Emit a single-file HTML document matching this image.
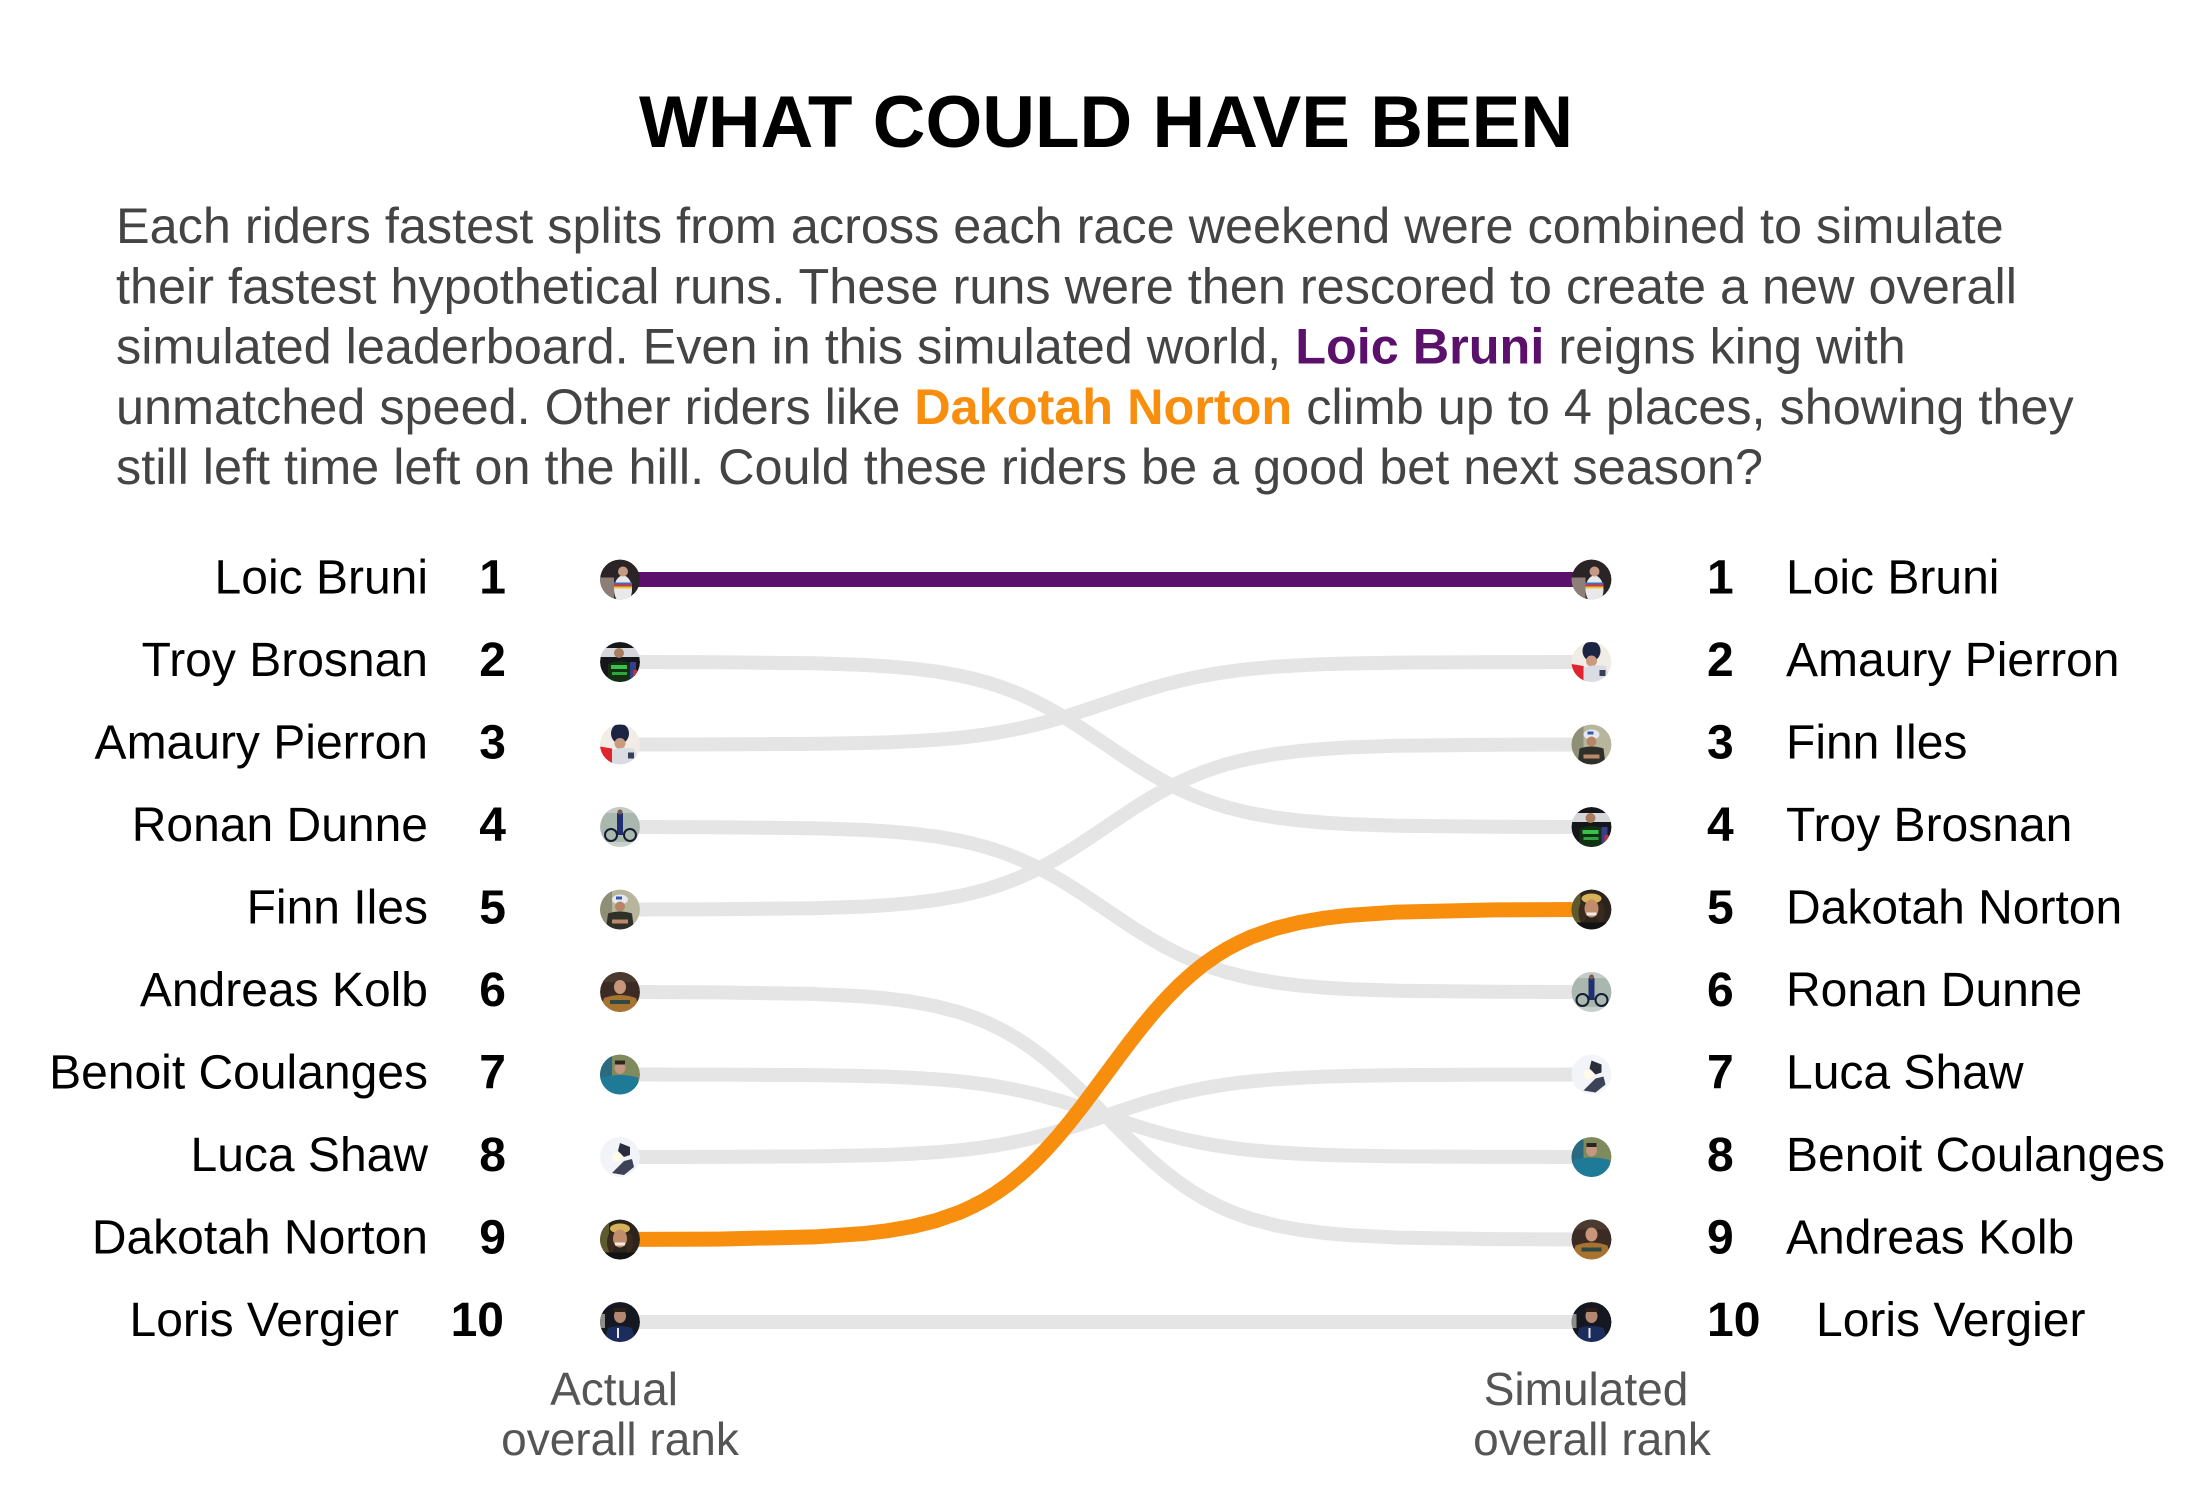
<!DOCTYPE html>
<html>
<head>
<meta charset="utf-8">
<style>
html,body{margin:0;padding:0;background:#fff;}
svg{display:block;}
text{font-family:"Liberation Sans","Helvetica","Arial",sans-serif;}
.nm{font-size:48px;fill:#000;}
.rk{font-size:48px;font-weight:bold;fill:#000;}
.sub{font-size:50.4px;fill:#444;}
.ax{font-size:46px;fill:#555;}
.g{fill:none;stroke:#e5e5e5;stroke-width:14;stroke-linejoin:round;}
</style>
</head>
<body>
<svg width="2200" height="1500" viewBox="0 0 2200 1500" xmlns="http://www.w3.org/2000/svg">
<defs>
<clipPath id="cp"><circle cx="0" cy="0" r="20"/></clipPath>
<g id="a1" clip-path="url(#cp)">
<circle r="20" fill="#2b2426"/>
<rect x="-20" y="-2" width="14" height="22" fill="#8d7e78"/>
<ellipse cx="3" cy="10" rx="9" ry="14" fill="#e9e9ec"/>
<rect x="-6" y="3" width="18" height="2" fill="#3a6fc0"/>
<rect x="-6" y="5" width="18" height="2" fill="#d33"/>
<rect x="-6" y="7" width="18" height="2" fill="#e8c840"/>
<circle cx="3" cy="-8" r="5" fill="#c59a85"/>
</g>
<g id="a2" clip-path="url(#cp)">
<circle r="20" fill="#15161a"/>
<rect x="-20" y="-14" width="40" height="9" fill="#d6d7db"/>
<circle cx="-1" cy="-9" r="5" fill="#a87c60"/>
<path d="M-12,20 L-12,2 Q0,-4 12,2 L12,20Z" fill="#143014"/>
<rect x="-9" y="3" width="16" height="4" fill="#39c24a"/>
<rect x="-8" y="10" width="15" height="3" fill="#2ea53f"/>
<rect x="10" y="0" width="6" height="16" fill="#3a3d8c"/>
<rect x="13" y="8" width="4" height="6" fill="#c0303a"/>
</g>
<g id="a3" clip-path="url(#cp)">
<circle r="20" fill="#f1ede6"/>
<ellipse cx="0" cy="-11" rx="9" ry="10" fill="#1c2443"/>
<circle cx="0" cy="-1" r="5.5" fill="#c99a7e"/>
<path d="M-20,2 L-8,4 L-6,20 L-20,20Z" fill="#e0252f"/>
<path d="M-8,6 Q0,2 14,4 L20,20 L-8,20Z" fill="#dadce3"/>
<rect x="8" y="8" width="6" height="6" fill="#3a3f58"/>
</g>
<g id="a4" clip-path="url(#cp)">
<circle r="20" fill="#aab7ae"/>
<rect x="-20" y="-20" width="40" height="6" fill="#c5ccc7"/>
<rect x="-3" y="-14" width="6" height="22" fill="#1e2f72"/>
<circle cx="0" cy="-15" r="2.5" fill="#7a5a48"/>
<circle cx="-9" cy="8" r="6" fill="none" stroke="#141c30" stroke-width="2"/>
<circle cx="10" cy="8" r="6" fill="none" stroke="#141c30" stroke-width="2"/>
<rect x="-20" y="15" width="40" height="5" fill="#c8d0cb"/>
</g>
<g id="a5" clip-path="url(#cp)">
<circle r="20" fill="#b7b59c"/>
<rect x="-20" y="-20" width="12" height="40" fill="#8f8f78"/>
<ellipse cx="0" cy="-10" rx="8" ry="5" fill="#e6eaf0"/>
<rect x="-4" y="-13" width="6" height="3" fill="#2c5bb0"/>
<circle cx="0" cy="-3" r="5" fill="#b78465"/>
<path d="M-14,20 L-12,4 Q0,0 12,4 L14,20Z" fill="#2f3129"/>
<rect x="-8" y="10" width="16" height="4" fill="#b88a6a"/>
</g>
<g id="a6" clip-path="url(#cp)">
<circle r="20" fill="#3b2b24"/>
<rect x="-20" y="-20" width="40" height="10" fill="#4a3a30"/>
<ellipse cx="0" cy="-5" rx="6" ry="7" fill="#c8967a"/>
<path d="M-20,20 L-16,6 Q0,0 16,6 L20,20Z" fill="#a8722f"/>
<rect x="-10" y="8" width="20" height="4" fill="#2f4a46"/>
</g>
<g id="a7" clip-path="url(#cp)">
<circle r="20" fill="#7f8b5d"/>
<rect x="-20" y="-20" width="12" height="40" fill="#2a6a7f"/>
<ellipse cx="0" cy="-7" rx="5.5" ry="6.5" fill="#c49880"/>
<rect x="-5" y="-14" width="10" height="4" fill="#2a2620"/>
<path d="M-20,20 L-18,3 Q0,-2 18,3 L20,20Z" fill="#1f7a98"/>
</g>
<g id="a8" clip-path="url(#cp)">
<circle r="20" fill="#f2f4f9"/>
<path d="M0,-14 L10,-10 L10,-2 L4,0 L-2,-6Z" fill="#2a2e3c"/>
<path d="M-8,16 L4,4 L12,2 L14,10 L4,18Z" fill="#3d4257"/>
<circle cx="-3" cy="0" r="5" fill="#fffbe8"/>
</g>
<g id="a9" clip-path="url(#cp)">
<circle r="20" fill="#2a241d"/>
<rect x="-20" y="-20" width="9" height="40" fill="#5d5a2e"/>
<ellipse cx="0" cy="-11" rx="10" ry="5" fill="#d8b25a"/>
<ellipse cx="-9" cy="3" rx="4" ry="10" fill="#3a2a1e"/>
<ellipse cx="9" cy="3" rx="4" ry="10" fill="#3a2a1e"/>
<ellipse cx="0" cy="-1" rx="7" ry="9" fill="#c08c6c"/>
<rect x="-5" y="3" width="10" height="3" fill="#f0ece6"/>
<rect x="-20" y="13" width="40" height="7" fill="#121212"/>
</g>
<g id="a10" clip-path="url(#cp)">
<circle r="20" fill="#151820"/>
<rect x="-20" y="-8" width="5" height="14" fill="#8c8c88"/>
<ellipse cx="0" cy="-6" rx="6" ry="7" fill="#b48870"/>
<rect x="-6" y="-14" width="12" height="4" fill="#2a2018"/>
<path d="M-16,20 L-12,6 Q0,2 12,6 L16,20Z" fill="#1c2c5c"/>
<rect x="-3" y="6" width="2" height="10" fill="#e8e8ee"/>
</g>
</defs>

<rect width="2200" height="1500" fill="#fff"/>

<!-- Title -->
<text x="1106" y="147" text-anchor="middle" font-size="73" font-weight="bold" fill="#000">WHAT COULD HAVE BEEN</text>

<!-- Subtitle -->
<text class="sub" x="116" y="243">Each riders fastest splits from across each race weekend were combined to simulate</text>
<text class="sub" x="116" y="303.5">their fastest hypothetical runs. These runs were then rescored to create a new overall</text>
<text class="sub" x="116" y="363.5">simulated leaderboard. Even in this simulated world, <tspan font-weight="bold" fill="#5b116b">Loic Bruni</tspan> reigns king with</text>
<text class="sub" x="116" y="424">unmatched speed. Other riders like <tspan font-weight="bold" fill="#f78e0e">Dakotah Norton</tspan> climb up to 4 places, showing they</text>
<text class="sub" x="116" y="484">still left time left on the hill. Could these riders be a good bet next season?</text>

<!-- Gray bump lines -->
<g>
<path class="g" vector-effect="non-scaling-stroke" transform="translate(620,662) scale(971.5,165)" d="M0,0 L0.1,0.0013 L0.2,0.0078 L0.25,0.0177 L0.275,0.0263 L0.3,0.0389 L0.325,0.057 L0.35,0.0829 L0.3625,0.0998 L0.375,0.1189 L0.3875,0.1419 L0.4,0.1677 L0.4125,0.1978 L0.425,0.2313 L0.4375,0.2689 L0.45,0.3099 L0.4625,0.3543 L0.475,0.4013 L0.4875,0.4502 L0.5,0.5 L0.5125,0.5498 L0.525,0.5987 L0.5375,0.6457 L0.55,0.6901 L0.5625,0.7311 L0.575,0.7687 L0.5875,0.8022 L0.6,0.8323 L0.6125,0.8581 L0.625,0.8811 L0.6375,0.9002 L0.65,0.9171 L0.675,0.943 L0.7,0.9611 L0.725,0.9737 L0.75,0.9823 L0.8,0.9922 L0.9,0.9987 L1,1"/>
<path class="g" vector-effect="non-scaling-stroke" transform="translate(620,744.5) scale(971.5,-82.5)" d="M0,0 L0.1,0.0013 L0.2,0.0078 L0.25,0.0177 L0.275,0.0263 L0.3,0.0389 L0.325,0.057 L0.35,0.0829 L0.3625,0.0998 L0.375,0.1189 L0.3875,0.1419 L0.4,0.1677 L0.4125,0.1978 L0.425,0.2313 L0.4375,0.2689 L0.45,0.3099 L0.4625,0.3543 L0.475,0.4013 L0.4875,0.4502 L0.5,0.5 L0.5125,0.5498 L0.525,0.5987 L0.5375,0.6457 L0.55,0.6901 L0.5625,0.7311 L0.575,0.7687 L0.5875,0.8022 L0.6,0.8323 L0.6125,0.8581 L0.625,0.8811 L0.6375,0.9002 L0.65,0.9171 L0.675,0.943 L0.7,0.9611 L0.725,0.9737 L0.75,0.9823 L0.8,0.9922 L0.9,0.9987 L1,1"/>
<path class="g" vector-effect="non-scaling-stroke" transform="translate(620,827) scale(971.5,165)" d="M0,0 L0.1,0.0013 L0.2,0.0078 L0.25,0.0177 L0.275,0.0263 L0.3,0.0389 L0.325,0.057 L0.35,0.0829 L0.3625,0.0998 L0.375,0.1189 L0.3875,0.1419 L0.4,0.1677 L0.4125,0.1978 L0.425,0.2313 L0.4375,0.2689 L0.45,0.3099 L0.4625,0.3543 L0.475,0.4013 L0.4875,0.4502 L0.5,0.5 L0.5125,0.5498 L0.525,0.5987 L0.5375,0.6457 L0.55,0.6901 L0.5625,0.7311 L0.575,0.7687 L0.5875,0.8022 L0.6,0.8323 L0.6125,0.8581 L0.625,0.8811 L0.6375,0.9002 L0.65,0.9171 L0.675,0.943 L0.7,0.9611 L0.725,0.9737 L0.75,0.9823 L0.8,0.9922 L0.9,0.9987 L1,1"/>
<path class="g" vector-effect="non-scaling-stroke" transform="translate(620,909.5) scale(971.5,-165)" d="M0,0 L0.1,0.0013 L0.2,0.0078 L0.25,0.0177 L0.275,0.0263 L0.3,0.0389 L0.325,0.057 L0.35,0.0829 L0.3625,0.0998 L0.375,0.1189 L0.3875,0.1419 L0.4,0.1677 L0.4125,0.1978 L0.425,0.2313 L0.4375,0.2689 L0.45,0.3099 L0.4625,0.3543 L0.475,0.4013 L0.4875,0.4502 L0.5,0.5 L0.5125,0.5498 L0.525,0.5987 L0.5375,0.6457 L0.55,0.6901 L0.5625,0.7311 L0.575,0.7687 L0.5875,0.8022 L0.6,0.8323 L0.6125,0.8581 L0.625,0.8811 L0.6375,0.9002 L0.65,0.9171 L0.675,0.943 L0.7,0.9611 L0.725,0.9737 L0.75,0.9823 L0.8,0.9922 L0.9,0.9987 L1,1"/>
<path class="g" vector-effect="non-scaling-stroke" transform="translate(620,992) scale(971.5,247.5)" d="M0,0 L0.1,0.0013 L0.2,0.0078 L0.25,0.0177 L0.275,0.0263 L0.3,0.0389 L0.325,0.057 L0.35,0.0829 L0.3625,0.0998 L0.375,0.1189 L0.3875,0.1419 L0.4,0.1677 L0.4125,0.1978 L0.425,0.2313 L0.4375,0.2689 L0.45,0.3099 L0.4625,0.3543 L0.475,0.4013 L0.4875,0.4502 L0.5,0.5 L0.5125,0.5498 L0.525,0.5987 L0.5375,0.6457 L0.55,0.6901 L0.5625,0.7311 L0.575,0.7687 L0.5875,0.8022 L0.6,0.8323 L0.6125,0.8581 L0.625,0.8811 L0.6375,0.9002 L0.65,0.9171 L0.675,0.943 L0.7,0.9611 L0.725,0.9737 L0.75,0.9823 L0.8,0.9922 L0.9,0.9987 L1,1"/>
<path class="g" vector-effect="non-scaling-stroke" transform="translate(620,1074.5) scale(971.5,82.5)" d="M0,0 L0.1,0.0013 L0.2,0.0078 L0.25,0.0177 L0.275,0.0263 L0.3,0.0389 L0.325,0.057 L0.35,0.0829 L0.3625,0.0998 L0.375,0.1189 L0.3875,0.1419 L0.4,0.1677 L0.4125,0.1978 L0.425,0.2313 L0.4375,0.2689 L0.45,0.3099 L0.4625,0.3543 L0.475,0.4013 L0.4875,0.4502 L0.5,0.5 L0.5125,0.5498 L0.525,0.5987 L0.5375,0.6457 L0.55,0.6901 L0.5625,0.7311 L0.575,0.7687 L0.5875,0.8022 L0.6,0.8323 L0.6125,0.8581 L0.625,0.8811 L0.6375,0.9002 L0.65,0.9171 L0.675,0.943 L0.7,0.9611 L0.725,0.9737 L0.75,0.9823 L0.8,0.9922 L0.9,0.9987 L1,1"/>
<path class="g" vector-effect="non-scaling-stroke" transform="translate(620,1157) scale(971.5,-82.5)" d="M0,0 L0.1,0.0013 L0.2,0.0078 L0.25,0.0177 L0.275,0.0263 L0.3,0.0389 L0.325,0.057 L0.35,0.0829 L0.3625,0.0998 L0.375,0.1189 L0.3875,0.1419 L0.4,0.1677 L0.4125,0.1978 L0.425,0.2313 L0.4375,0.2689 L0.45,0.3099 L0.4625,0.3543 L0.475,0.4013 L0.4875,0.4502 L0.5,0.5 L0.5125,0.5498 L0.525,0.5987 L0.5375,0.6457 L0.55,0.6901 L0.5625,0.7311 L0.575,0.7687 L0.5875,0.8022 L0.6,0.8323 L0.6125,0.8581 L0.625,0.8811 L0.6375,0.9002 L0.65,0.9171 L0.675,0.943 L0.7,0.9611 L0.725,0.9737 L0.75,0.9823 L0.8,0.9922 L0.9,0.9987 L1,1"/>
<line x1="620" y1="1322" x2="1591.5" y2="1322" stroke="#e5e5e5" stroke-width="14"/>
</g>

<!-- Highlighted lines -->
<path vector-effect="non-scaling-stroke" fill="none" stroke="#f78e0e" stroke-width="15" stroke-linejoin="round" transform="translate(620,1239.5) scale(971.5,-330)" d="M0,0 L0.1,0.0013 L0.2,0.0078 L0.25,0.0177 L0.275,0.0263 L0.3,0.0389 L0.325,0.057 L0.35,0.0829 L0.3625,0.0998 L0.375,0.1189 L0.3875,0.1419 L0.4,0.1677 L0.4125,0.1978 L0.425,0.2313 L0.4375,0.2689 L0.45,0.3099 L0.4625,0.3543 L0.475,0.4013 L0.4875,0.4502 L0.5,0.5 L0.5125,0.5498 L0.525,0.5987 L0.5375,0.6457 L0.55,0.6901 L0.5625,0.7311 L0.575,0.7687 L0.5875,0.8022 L0.6,0.8323 L0.6125,0.8581 L0.625,0.8811 L0.6375,0.9002 L0.65,0.9171 L0.675,0.943 L0.7,0.9611 L0.725,0.9737 L0.75,0.9823 L0.8,0.9922 L0.9,0.9987 L1,1"/>
<line x1="620" y1="579.5" x2="1591.5" y2="579.5" stroke="#5b116b" stroke-width="15"/>

<!-- Left avatars -->
<g transform="translate(620,579.5)"><use href="#a1"/></g>
<g transform="translate(620,662)"><use href="#a2"/></g>
<g transform="translate(620,744.5)"><use href="#a3"/></g>
<g transform="translate(620,827)"><use href="#a4"/></g>
<g transform="translate(620,909.5)"><use href="#a5"/></g>
<g transform="translate(620,992)"><use href="#a6"/></g>
<g transform="translate(620,1074.5)"><use href="#a7"/></g>
<g transform="translate(620,1157)"><use href="#a8"/></g>
<g transform="translate(620,1239.5)"><use href="#a9"/></g>
<g transform="translate(620,1322)"><use href="#a10"/></g>

<!-- Right avatars -->
<g transform="translate(1591.5,579.5)"><use href="#a1"/></g>
<g transform="translate(1591.5,662)"><use href="#a3"/></g>
<g transform="translate(1591.5,744.5)"><use href="#a5"/></g>
<g transform="translate(1591.5,827)"><use href="#a2"/></g>
<g transform="translate(1591.5,909.5)"><use href="#a9"/></g>
<g transform="translate(1591.5,992)"><use href="#a4"/></g>
<g transform="translate(1591.5,1074.5)"><use href="#a8"/></g>
<g transform="translate(1591.5,1157)"><use href="#a7"/></g>
<g transform="translate(1591.5,1239.5)"><use href="#a6"/></g>
<g transform="translate(1591.5,1322)"><use href="#a10"/></g>

<!-- Left labels -->
<g text-anchor="end">
<text class="nm" x="428" y="593.5">Loic Bruni</text>
<text class="nm" x="428" y="676">Troy Brosnan</text>
<text class="nm" x="428" y="758.5">Amaury Pierron</text>
<text class="nm" x="428" y="841">Ronan Dunne</text>
<text class="nm" x="428" y="923.5">Finn Iles</text>
<text class="nm" x="428" y="1006">Andreas Kolb</text>
<text class="nm" x="428" y="1088.5">Benoit Coulanges</text>
<text class="nm" x="428" y="1171">Luca Shaw</text>
<text class="nm" x="428" y="1253.5">Dakotah Norton</text>
<text class="nm" x="399" y="1336">Loris Vergier</text>
<text class="rk" x="506" y="593.5">1</text>
<text class="rk" x="506" y="676">2</text>
<text class="rk" x="506" y="758.5">3</text>
<text class="rk" x="506" y="841">4</text>
<text class="rk" x="506" y="923.5">5</text>
<text class="rk" x="506" y="1006">6</text>
<text class="rk" x="506" y="1088.5">7</text>
<text class="rk" x="506" y="1171">8</text>
<text class="rk" x="506" y="1253.5">9</text>
<text class="rk" x="504" y="1336">10</text>
</g>

<!-- Right labels -->
<g text-anchor="start">
<text class="rk" x="1707" y="593.5">1</text>
<text class="rk" x="1707" y="676">2</text>
<text class="rk" x="1707" y="758.5">3</text>
<text class="rk" x="1707" y="841">4</text>
<text class="rk" x="1707" y="923.5">5</text>
<text class="rk" x="1707" y="1006">6</text>
<text class="rk" x="1707" y="1088.5">7</text>
<text class="rk" x="1707" y="1171">8</text>
<text class="rk" x="1707" y="1253.5">9</text>
<text class="rk" x="1707" y="1336">10</text>
<text class="nm" x="1786" y="593.5">Loic Bruni</text>
<text class="nm" x="1786" y="676">Amaury Pierron</text>
<text class="nm" x="1786" y="758.5">Finn Iles</text>
<text class="nm" x="1786" y="841">Troy Brosnan</text>
<text class="nm" x="1786" y="923.5">Dakotah Norton</text>
<text class="nm" x="1786" y="1006">Ronan Dunne</text>
<text class="nm" x="1786" y="1088.5">Luca Shaw</text>
<text class="nm" x="1786" y="1171">Benoit Coulanges</text>
<text class="nm" x="1786" y="1253.5">Andreas Kolb</text>
<text class="nm" x="1816" y="1336">Loris Vergier</text>
</g>

<!-- Axis labels -->
<g text-anchor="middle">
<text class="ax" x="614" y="1405">Actual</text>
<text class="ax" x="620" y="1455">overall rank</text>
<text class="ax" x="1586" y="1405">Simulated</text>
<text class="ax" x="1592" y="1455">overall rank</text>
</g>
</svg>
</body>
</html>
